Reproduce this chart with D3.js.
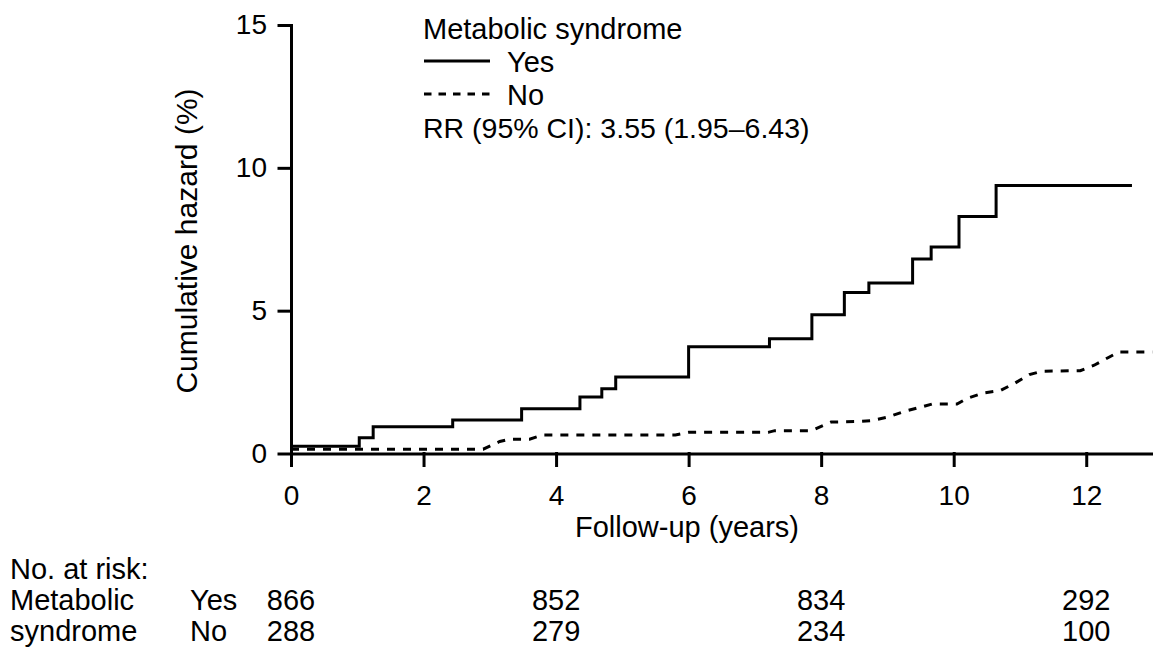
<!DOCTYPE html>
<html>
<head>
<meta charset="utf-8">
<script src="https://cdn.jsdelivr.net/npm/d3@7"></script>
<style>
  body { margin: 0; background: #fff; }
  svg { display: block; font-family: "Liberation Sans", Arial, sans-serif; }
  .axis path, .axis line { stroke: #000; stroke-width: 3; stroke-linecap: square; }
  .axis text { font-size: 28px; fill: #000; font-family: "Liberation Sans", Arial, sans-serif; }
</style>
</head>
<body>
<svg id="chart" width="1153" height="652"></svg>
<script>
// cumulative hazard (%) steps, metabolic syndrome = yes
const yesSteps = [
    [0, 0.25], [1.03, 0.55], [1.24, 0.94], [2.44, 1.17], [3.48, 1.57],
    [4.36, 1.98], [4.69, 2.27], [4.9, 2.68], [6.0, 3.74], [7.22, 4.02],
    [7.86, 4.86], [8.35, 5.64], [8.72, 5.97], [9.38, 6.81], [9.66, 7.23],
    [10.08, 8.3], [10.64, 9.38], [12.69, 9.38]
];
// metabolic syndrome = no (dashed)
const noSteps = [
    [0, 0.15], [2.9, 0.15], [3.15, 0.42], [3.3, 0.5], [3.6, 0.5], [3.8, 0.65],
    [5.8, 0.65], [6.0, 0.74], [7.2, 0.74], [7.3, 0.8], [7.85, 0.8], [8.15, 1.1],
    [8.55, 1.12], [8.75, 1.15], [9.0, 1.27], [9.25, 1.47], [9.5, 1.62],
    [9.67, 1.73], [10.05, 1.73], [10.2, 1.93], [10.45, 2.12], [10.7, 2.2],
    [10.93, 2.47], [11.14, 2.76], [11.33, 2.88], [11.91, 2.9], [12.12, 3.09],
    [12.35, 3.38], [12.49, 3.55], [13, 3.55]
];
const xTicks = [0, 2, 4, 6, 8, 10, 12];
const yTicks = [0, 5, 10, 15];
const riskYears = [0, 4, 8, 12];
const riskYes = [866, 852, 834, 292];
const riskNo = [288, 279, 234, 100];
const legendItems = ['Yes', 'No'];

const svg = d3.select('#chart');

let x = d3.scaleLinear().domain([0, 13]).range([291, 1152.5]);
let y = d3.scaleLinear().domain([0, 15]).range([453.5, 25]);

svg.append('g')
    .attr('class', 'axis')
    .attr('transform', 'translate(0,' + y(0) + ')')
    .call(d3.axisBottom(x).tickValues(xTicks).tickSize(12).tickSizeOuter(0).tickPadding(20))
    .call(g => g.selectAll('text').attr('dy', '0.71em'));

svg.append('g')
    .attr('class', 'axis')
    .attr('transform', 'translate(' + x(0) + ',0)')
    .call(d3.axisLeft(y).tickValues(yTicks).tickSize(12).tickSizeOuter(0).tickPadding(12));

let line = d3.line()
    .x(function(d) { return x(d[0]) })
    .y(function(d) { return y(d[1]) });

svg.append('path')
    .attr('d', line.curve(d3.curveStepAfter)(yesSteps))
    .attr('fill', 'none')
    .attr('stroke', '#000')
    .attr('stroke-width', 3);

svg.append('path')
    .attr('d', line.curve(d3.curveLinear)(noSteps))
    .attr('fill', 'none')
    .attr('stroke', '#000')
    .attr('stroke-width', 3)
    .attr('stroke-dasharray', '8 8');

// axis titles
svg.append('text')
    .attr('x', 687).attr('y', 537)
    .attr('text-anchor', 'middle')
    .attr('font-size', 29)
    .text('Follow-up (years)');

svg.append('text')
    .attr('transform', 'translate(197,241) rotate(-90)')
    .attr('text-anchor', 'middle')
    .attr('font-size', 30)
    .text('Cumulative hazard (%)');

// legend
let legend = svg.append('g').attr('font-size', 29);
legend.append('text').attr('x', 423).attr('y', 39).text('Metabolic syndrome');
legendItems.forEach(function(name, i) {
    let ly = 61 + i * 33;
    legend.append('line')
        .attr('x1', 424).attr('x2', 490)
        .attr('y1', ly).attr('y2', ly)
        .attr('stroke', '#000')
        .attr('stroke-width', 3)
        .attr('stroke-dasharray', i == 0 ? null : '7.5 7');
    legend.append('text').attr('x', 507).attr('y', ly + 11).text(name);
});
legend.append('text').attr('x', 423).attr('y', 138).attr('font-size', 28.5)
    .text('RR (95% CI): 3.55 (1.95–6.43)');

// number at risk table
let table = svg.append('g').attr('font-size', 29);
table.append('text').attr('x', 10).attr('y', 579).text('No. at risk:');
table.append('text').attr('x', 10).attr('y', 610).text('Metabolic');
table.append('text').attr('x', 10).attr('y', 641).text('syndrome');
table.append('text').attr('x', 190).attr('y', 610).text('Yes');
table.append('text').attr('x', 190).attr('y', 641).text('No');

[riskYes, riskNo].forEach(function(row, r) {
    table.selectAll(null)
        .data(row)
        .enter()
        .append('text')
        .attr('x', function(d, i) { return x(riskYears[i]) })
        .attr('y', 610 + r * 31)
        .attr('text-anchor', 'middle')
        .text(function(d) { return d });
});
</script>
</body>
</html>
